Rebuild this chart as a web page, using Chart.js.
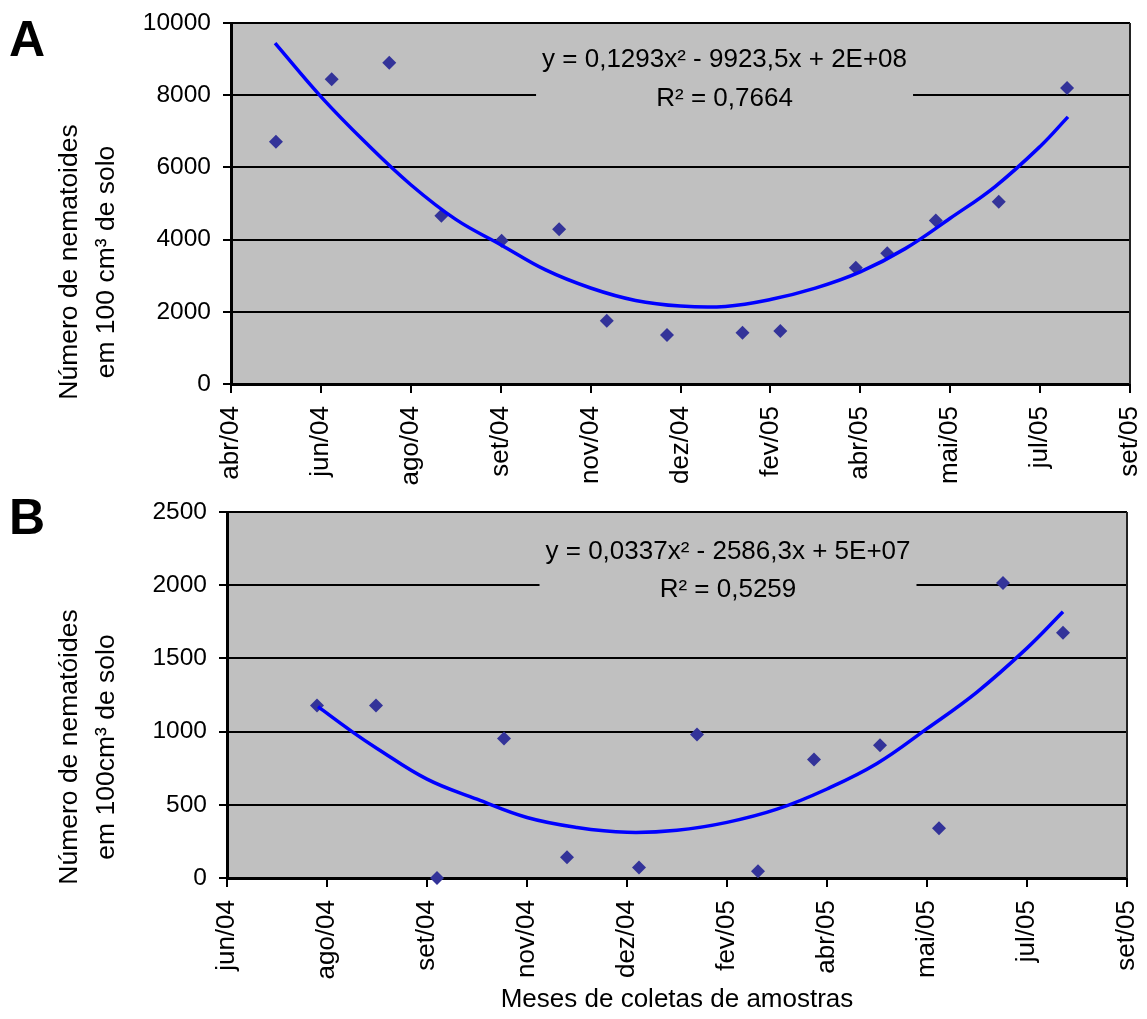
<!DOCTYPE html>
<html>
<head>
<meta charset="utf-8">
<script src="https://cdn.jsdelivr.net/npm/chart.js@4.4.0/dist/chart.umd.min.js"></script>
<style>
    body { margin: 0; background: #fff; }
    #caixaA { position: absolute; left: 0; top: 0; }
    #caixaB { position: absolute; left: 0; top: 490px; }
</style>
</head>
<body>
<div id="caixaA"><canvas id="graficoA" width="1147" height="490"></canvas></div>
<div id="caixaB"><canvas id="graficoB" width="1147" height="529"></canvas></div>
<script>
// ── Gráfico A ──────────────────────────────
const rotulosA     = ['abr/04', 'jun/04', 'ago/04', 'set/04', 'nov/04', 'dez/04', 'fev/05', 'abr/05', 'mai/05', 'jul/05', 'set/05'];
const coletasA_x   = [0.50, 1.12, 1.76, 2.34, 3.01, 3.65, 4.18, 4.85, 5.69, 6.11, 6.95, 7.30, 7.84, 8.54, 9.30];
const coletasA_y   = [6710, 8440, 8900, 4660, 3970, 4290, 1750, 1360, 1420, 1470, 3220, 3620, 4530, 5050, 8200];
const tendenciaA_x = [0.49, 1.0, 1.5, 2.0, 2.5, 3.0, 3.5, 4.0, 4.5, 5.0, 5.5, 6.0, 6.5, 7.0, 7.5, 8.0, 8.5, 9.0, 9.31];
const tendenciaA_y = [9440, 7960, 6680, 5520, 4560, 3860, 3160, 2660, 2315, 2160, 2150, 2340, 2655, 3105, 3750, 4590, 5470, 6580, 7400];
const eixoA_y      = { min: 0, max: 10000, passo: 2000 };
const equacaoA     = ['y = 0,1293x² - 9923,5x + 2E+08', 'R² = 0,7664'];
const tituloA_y    = ['Número de nematoides', 'em 100 cm³ de solo'];

// ── Gráfico B ──────────────────────────────
const rotulosB     = ['jun/04', 'ago/04', 'set/04', 'nov/04', 'dez/04', 'fev/05', 'abr/05', 'mai/05', 'jul/05', 'set/05'];
const coletasB_x   = [0.90, 1.49, 2.10, 2.77, 3.40, 4.12, 4.70, 5.31, 5.87, 6.53, 7.12, 7.76, 8.36];
const coletasB_y   = [1178, 1178, 0, 953, 141, 71, 980, 46, 809, 907, 340, 2015, 1675];
const tendenciaB_x = [0.91, 1.25, 1.5, 2.0, 2.5, 3.0, 3.5, 4.0, 4.5, 5.0, 5.5, 6.0, 6.5, 7.0, 7.5, 8.0, 8.36];
const tendenciaB_y = [1170, 1000, 885, 675, 538, 413, 345, 312, 326, 380, 470, 608, 782, 1020, 1270, 1570, 1818];
const eixoB_y      = { min: 0, max: 2500, passo: 500 };
const equacaoB     = ['y = 0,0337x² - 2586,3x + 5E+07', 'R² = 0,5259'];
const tituloB_y    = ['Número de nematóides', 'em 100cm³ de solo'];
const tituloB_x    = 'Meses de coletas de amostras';

const FONTE = "'Liberation Sans', Arial, sans-serif";
Chart.defaults.font.family = FONTE;
Chart.defaults.color = '#000';

function pares(xs, ys) {
    return xs.map((x, i) => ({ x: x, y: ys[i] }));
}

// fundo cinza, caixa da equação, borda direita, letra e título do eixo Y
const pluginExcel = {
    id: 'excel',
    beforeDraw(chart) {
        const a = chart.chartArea, ctx = chart.ctx;
        ctx.save();
        ctx.fillStyle = '#C0C0C0';
        ctx.fillRect(a.left, a.top, a.right - a.left, a.bottom - a.top);
        ctx.restore();
    },
    beforeDatasetsDraw(chart, args, op) {
        const a = chart.chartArea, ctx = chart.ctx;
        const sx = chart.scales.x, sy = chart.scales.y;
        ctx.save();
        // borda direita
        ctx.strokeStyle = '#222';
        ctx.lineWidth = 2;
        ctx.beginPath();
        ctx.moveTo(a.right, a.top);
        ctx.lineTo(a.right, a.bottom);
        ctx.stroke();

        // caixa com a equação
        ctx.font = '26px ' + FONTE;
        const cx = sx.getPixelForValue(op.eqX);
        const y1 = sy.getPixelForValue(op.eqY[0]);
        const y2 = sy.getPixelForValue(op.eqY[1]);
        const larg = Math.max(...op.equacao.map(t => ctx.measureText(t).width));
        ctx.fillStyle = '#C0C0C0';
        ctx.fillRect(cx - larg / 2 - 6, y1 - 20, larg + 12, y2 - y1 + 40);
        ctx.fillStyle = '#000';
        ctx.textAlign = 'center';
        ctx.textBaseline = 'middle';
        ctx.fillText(op.equacao[0], cx, y1);
        ctx.fillText(op.equacao[1], cx, y2);
        ctx.restore();
    },
    afterDraw(chart, args, op) {
        const ctx = chart.ctx;
        ctx.save();
        ctx.fillStyle = '#000';
        ctx.font = 'bold 50px ' + FONTE;
        ctx.textBaseline = 'alphabetic';
        ctx.fillText(op.letra, 9, op.letraY);

        ctx.font = '26.5px ' + FONTE;
        ctx.textAlign = 'center';
        ctx.textBaseline = 'middle';
        op.tituloY.forEach((linha, i) => {
            ctx.save();
            ctx.translate(70 + i * 37, op.tituloCentro);
            ctx.rotate(-Math.PI / 2);
            ctx.fillText(linha, 0, 0);
            ctx.restore();
        });
        ctx.restore();
    }
};

function dibujarGrafico(id, cfg) {
    const ctx = document.getElementById(id).getContext('2d');
    return new Chart(ctx, {
        type: 'scatter',
        data: {
            datasets: [
                {
                    label: 'Tendência',
                    data: pares(cfg.tendX, cfg.tendY),
                    showLine: true,
                    borderColor: '#0000FF',
                    borderWidth: 3.5,
                    pointRadius: 0,
                    tension: 0.4,
                    clip: false
                },
                {
                    label: 'Coletas',
                    data: pares(cfg.colX, cfg.colY),
                    pointStyle: 'rectRot',
                    pointRadius: 7,
                    pointBackgroundColor: '#333399',
                    pointBorderColor: '#333399',
                    pointBorderWidth: 0,
                    clip: false
                }
            ]
        },
        options: {
            responsive: false,
            animation: false,
            events: [],
            layout: { padding: { left: 0, top: cfg.topo, right: cfg.direita, bottom: 0 } },
            plugins: {
                legend: { display: false },
                tooltip: { enabled: false },
                excel: {
                    letra: cfg.letra,
                    letraY: cfg.letraY,
                    tituloY: cfg.tituloY,
                    tituloCentro: cfg.tituloCentro,
                    equacao: cfg.equacao,
                    eqX: cfg.eqX,
                    eqY: cfg.eqY
                }
            },
            scales: {
                x: {
                    type: 'linear',
                    min: 0,
                    max: cfg.rotulos.length - 1,
                    afterFit: s => {
                        s.height = cfg.altX;
                        s.paddingLeft = 0;
                        s.paddingRight = 0;
                    },
                    afterBuildTicks: s => {
                        s.ticks = cfg.rotulos.map((r, i) => ({ value: i }));
                    },
                    ticks: {
                        callback: v => cfg.rotulos[v],
                        minRotation: 90,
                        maxRotation: 90,
                        autoSkip: false,
                        padding: 13,
                        font: { size: 26 }
                    },
                    grid: {
                        drawOnChartArea: false,
                        drawTicks: true,
                        tickLength: 9,
                        color: '#000',
                        lineWidth: 2
                    },
                    border: { color: '#000', width: 3 },
                    title: {
                        display: !!cfg.tituloX,
                        text: cfg.tituloX || '',
                        font: { size: 26 },
                        padding: { top: 0, bottom: 4 }
                    }
                },
                y: {
                    min: cfg.eixoY.min,
                    max: cfg.eixoY.max,
                    afterFit: s => {
                        s.width = cfg.largY;
                        s.paddingTop = 0;
                        s.paddingBottom = 0;
                    },
                    ticks: {
                        stepSize: cfg.eixoY.passo,
                        callback: v => String(v),
                        padding: 12,
                        font: { size: 24.5 }
                    },
                    grid: {
                        color: '#000',
                        lineWidth: 2,
                        tickLength: 8
                    },
                    border: { color: '#000', width: 3 }
                }
            }
        },
        plugins: [pluginExcel]
    });
}

dibujarGrafico('graficoA', {
    rotulos: rotulosA, colX: coletasA_x, colY: coletasA_y,
    tendX: tendenciaA_x, tendY: tendenciaA_y, eixoY: eixoA_y,
    equacao: equacaoA, eqX: 5.49, eqY: [8975, 7900],
    tituloY: tituloA_y, tituloCentro: 262,
    letra: 'A', letraY: 56,
    topo: 23, direita: 17, largY: 231, altX: 106
});

dibujarGrafico('graficoB', {
    rotulos: rotulosB, colX: coletasB_x, colY: coletasB_y,
    tendX: tendenciaB_x, tendY: tendenciaB_y, eixoY: eixoB_y,
    equacao: equacaoB, eqX: 5.01, eqY: [2230, 1965],
    tituloY: tituloB_y, tituloCentro: 257,
    tituloX: tituloB_x,
    letra: 'B', letraY: 44,
    topo: 22, direita: 20, largY: 227, altX: 141
});
</script>
</body>
</html>
